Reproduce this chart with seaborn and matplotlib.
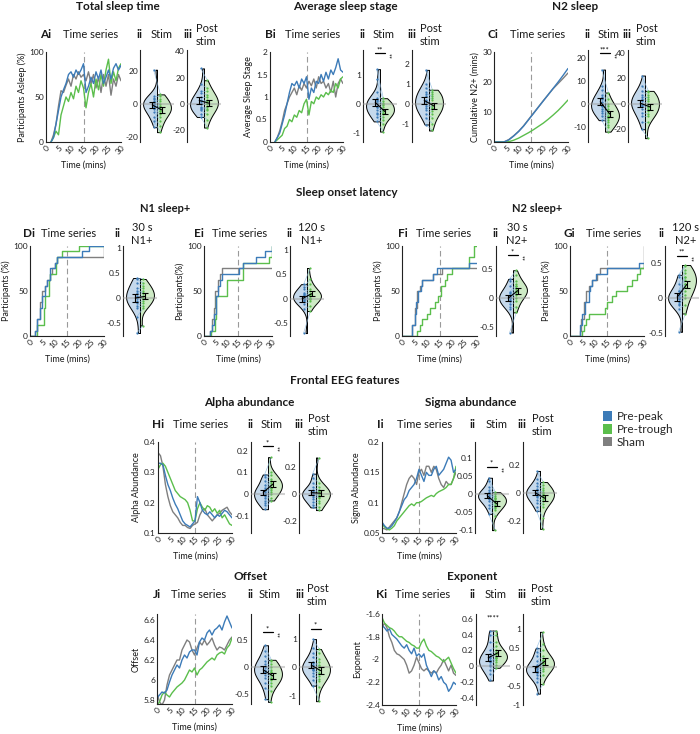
import numpy as np
import pandas as pd
import matplotlib
matplotlib.use('Agg')
import matplotlib.pyplot as plt
from matplotlib.patches import Patch
from matplotlib.ticker import FuncFormatter
import seaborn as sns

sns.set_theme(style='white')
plt.rcParams['font.family'] = ['Lato', 'DejaVu Sans']
plt.rcParams['axes.unicode_minus'] = False

# ---------------- DATA ----------------
conds = ['Pre-peak', 'Pre-trough', 'Sham']

# A: participants asleep (%), x = 2..30
A_x = list(range(2, 31))
A_blue = [0, 5, 20, 35, 50, 58, 65, 75, 78, 72, 80, 75, 80, 87, 55, 62, 72, 65, 78, 70, 80, 65, 72, 80, 70, 82, 87, 80, 85]
A_gray = [0, 8, 20, 40, 57, 55, 63, 70, 62, 75, 70, 78, 72, 75, 68, 78, 65, 75, 60, 72, 55, 75, 62, 75, 52, 70, 62, 75, 68]
A_green = [0, 5, 12, 8, 30, 40, 50, 45, 55, 48, 62, 55, 68, 60, 38, 55, 65, 50, 70, 58, 75, 62, 80, 92, 65, 78, 68, 82, 87]

# B: average sleep stage
B_x = list(range(2, 31))
B_blue = [0, 0.1, 0.2, 0.4, 0.6, 0.85, 1.1, 1.3, 1.25, 1.35, 1.2, 1.4, 1.3, 1.45, 0.95, 1.2, 1.1, 1.35, 1.3, 1.5, 1.35, 1.55, 1.4, 1.6, 1.5, 1.65, 1.85, 1.6, 1.55]
B_gray = [0, 0.1, 0.25, 0.45, 0.7, 0.85, 1.0, 1.1, 1.2, 1.05, 1.25, 1.15, 1.3, 1.2, 1.35, 1.25, 1.4, 1.2, 1.45, 1.3, 1.35, 1.2, 1.3, 1.1, 1.35, 1.0, 1.3, 1.4, 1.3]
B_green = [0, 0.05, 0.1, 0.15, 0.3, 0.35, 0.5, 0.45, 0.6, 0.55, 0.7, 0.65, 0.85, 0.95, 0.6, 0.9, 0.85, 1.0, 0.95, 1.05, 1.0, 1.1, 1.05, 1.15, 1.1, 1.3, 1.2, 1.4, 1.45]

# C: cumulative N2+ (mins)
C_x = [0, 2, 4, 6, 8, 10, 12, 14, 16, 18, 20, 22, 24, 26, 28, 30]
C_blue = [0, 0, 0, 0.7, 2.0, 3.5, 5.3, 7.4, 9.5, 11.6, 13.7, 15.8, 17.9, 20.0, 22.2, 24.5]
C_gray = [0, 0, 0, 0.8, 2.1, 3.6, 5.4, 7.5, 9.6, 11.7, 13.8, 15.8, 17.8, 19.5, 21.2, 23.0]
C_green = [0, 0, 0, 0.1, 0.6, 1.3, 2.2, 3.1, 4.1, 5.2, 6.3, 7.6, 9.0, 10.5, 12.2, 14.0]

# D-G: sleep onset step curves (participants %)
D_blue_x = [0, 2, 3, 4, 5, 6, 7, 8, 10, 11, 21, 24, 30]
D_blue_y = [0, 6, 19, 31, 44, 56, 62, 75, 81, 87.5, 94, 100, 100]
D_gray_x = [0, 2, 3, 4, 5, 6, 7, 8, 9, 10, 11, 30]
D_gray_y = [0, 6, 19, 37.5, 50, 56, 62, 69, 75, 81, 87.5, 100]
D_green_x = [0, 3, 5.5, 6, 7.5, 8, 10.5, 11, 13, 20, 30]
D_green_y = [0, 12.5, 31, 44, 62, 69, 81, 87.5, 94, 100, 100]

E_blue_x = [0, 2.5, 3.5, 4.5, 5.5, 6, 7, 8, 15.5, 17, 23, 27, 30]
E_blue_y = [0, 6, 12.5, 25, 44, 56, 62.5, 69, 75, 81, 87.5, 94, 100]
E_gray_x = [0, 2.5, 3.5, 4.5, 5, 6, 7, 8, 9, 30]
E_gray_y = [0, 6, 19, 31, 50, 62.5, 69, 75, 75, 75]
E_green_x = [0, 3, 5, 5.5, 6.5, 10, 17, 26, 28.5, 30]
E_green_y = [0, 6, 19, 44, 44, 62.5, 81, 81, 87.5, 100]

F_blue_x = [0, 4, 5, 5.5, 6.5, 7.5, 8, 9, 12.5, 14, 27, 30]
F_blue_y = [0, 12.5, 25, 37.5, 50, 56, 62.5, 62.5, 69, 75, 81, 81]
F_gray_x = [0, 4, 5, 6, 7, 8, 12.5, 14, 16, 30]
F_gray_y = [0, 12.5, 31, 50, 56, 62.5, 69, 69, 75, 75]
F_green_x = [0, 6, 7, 8, 10, 11, 13, 14.5, 15.5, 17, 18, 20, 27, 29, 30]
F_green_y = [0, 6, 12.5, 19, 25, 31, 37.5, 44, 56, 62.5, 69, 75, 87.5, 100, 100]

G_blue_x = [0, 4, 5, 6, 7.5, 8, 9, 10.5, 13, 15, 28, 30]
G_blue_y = [0, 12.5, 25, 37.5, 50, 56, 62.5, 69, 69, 75, 81, 81]
G_gray_x = [0, 4, 4.5, 5.5, 6.5, 7.5, 9, 11, 12, 30]
G_gray_y = [0, 6, 19, 37.5, 50, 56, 62.5, 69, 75, 100]
G_green_x = [0, 5, 5.5, 6.5, 7.5, 9.5, 14, 15, 17, 18.5, 23, 25, 27, 28.5, 30]
G_green_y = [0, 6, 12.5, 19, 25, 25, 31, 37.5, 44, 50, 56, 62.5, 69, 75, 81]

# H-K: EEG feature time series, x = 0..30
T_x = list(range(0, 31))
H_gray = [0.365, 0.355, 0.32, 0.26, 0.22, 0.19, 0.17, 0.16, 0.15, 0.135, 0.125, 0.125, 0.118, 0.115, 0.125, 0.13, 0.135, 0.16, 0.175, 0.18, 0.16, 0.15, 0.14, 0.15, 0.16, 0.165, 0.175, 0.18, 0.185, 0.17, 0.16]
H_blue = [0.33, 0.33, 0.325, 0.29, 0.26, 0.24, 0.215, 0.195, 0.18, 0.16, 0.14, 0.13, 0.125, 0.12, 0.13, 0.14, 0.22, 0.2, 0.175, 0.165, 0.16, 0.17, 0.16, 0.15, 0.16, 0.155, 0.165, 0.175, 0.17, 0.16, 0.15]
H_green = [0.31, 0.325, 0.33, 0.32, 0.3, 0.28, 0.26, 0.24, 0.23, 0.22, 0.215, 0.21, 0.2, 0.175, 0.14, 0.14, 0.18, 0.2, 0.185, 0.175, 0.19, 0.185, 0.17, 0.18, 0.165, 0.175, 0.15, 0.16, 0.145, 0.13, 0.125]

I_gray = [0.058, 0.057, 0.055, 0.06, 0.065, 0.07, 0.075, 0.085, 0.1, 0.115, 0.13, 0.14, 0.145, 0.14, 0.13, 0.15, 0.155, 0.145, 0.16, 0.16, 0.15, 0.16, 0.155, 0.14, 0.13, 0.125, 0.135, 0.13, 0.13, 0.14, 0.15]
I_blue = [0.068, 0.062, 0.058, 0.058, 0.062, 0.068, 0.075, 0.085, 0.095, 0.105, 0.11, 0.12, 0.125, 0.13, 0.14, 0.155, 0.145, 0.135, 0.15, 0.145, 0.145, 0.155, 0.16, 0.145, 0.15, 0.155, 0.165, 0.175, 0.17, 0.15, 0.155]
I_green = [0.065, 0.06, 0.057, 0.055, 0.058, 0.062, 0.07, 0.075, 0.08, 0.085, 0.09, 0.095, 0.098, 0.095, 0.1, 0.1, 0.102, 0.105, 0.108, 0.11, 0.112, 0.11, 0.115, 0.118, 0.12, 0.122, 0.125, 0.13, 0.13, 0.14, 0.16]

J_gray = [5.87, 5.78, 5.75, 5.8, 5.95, 6.05, 6.1, 6.15, 6.2, 6.2, 6.3, 6.35, 6.4, 6.38, 6.3, 6.25, 6.32, 6.38, 6.35, 6.4, 6.35, 6.38, 6.42, 6.35, 6.3, 6.33, 6.32, 6.3, 6.35, 6.4, 6.43]
J_blue = [5.82, 5.85, 5.88, 5.87, 5.9, 5.98, 6.05, 6.1, 6.15, 6.12, 6.2, 6.25, 6.22, 6.28, 6.3, 6.3, 6.25, 6.38, 6.42, 6.4, 6.47, 6.5, 6.45, 6.5, 6.52, 6.55, 6.5, 6.58, 6.64, 6.58, 6.52]
J_green = [5.75, 5.78, 5.85, 5.88, 5.85, 5.83, 5.87, 5.9, 5.93, 5.95, 5.97, 6.0, 6.05, 6.1, 6.08, 6.12, 6.05, 6.1, 6.12, 6.15, 6.18, 6.2, 6.22, 6.2, 6.25, 6.27, 6.28, 6.26, 6.32, 6.35, 6.42]

K_gray = [-1.72, -1.68, -1.72, -1.8, -1.85, -1.92, -1.95, -1.96, -1.98, -2.0, -2.05, -2.12, -2.1, -2.05, -1.98, -2.03, -2.08, -2.1, -2.08, -2.1, -2.12, -2.1, -2.12, -2.08, -2.05, -2.0, -2.05, -2.1, -2.05, -2.12, -2.14]
K_blue = [-1.7, -1.72, -1.75, -1.73, -1.78, -1.8, -1.82, -1.85, -1.88, -1.9, -1.87, -1.92, -1.95, -1.9, -1.97, -1.95, -1.98, -1.95, -2.05, -2.1, -2.15, -2.1, -2.12, -2.18, -2.15, -2.2, -2.22, -2.28, -2.25, -2.2, -2.22]
K_green = [-1.63, -1.68, -1.7, -1.72, -1.73, -1.75, -1.78, -1.8, -1.8, -1.82, -1.84, -1.85, -1.87, -1.88, -1.9, -1.9, -1.85, -1.82, -1.88, -1.92, -1.93, -1.95, -1.97, -1.98, -2.0, -2.02, -2.0, -1.98, -2.03, -2.08, -2.12]

# Violin (per-participant change) values: blue = Pre-peak, green = Pre-trough
Aii_b = [21, 5, 3, 2, 1, 0, -1, -2, -3, -5, -8, -10, -14, 4, 0]
Aii_g = [6, 5, 2, 0, -2, -3, -4, -6, -8, -10, -13, -17, 3, -1, -4]
Aiii_b = [27, 15, 10, 8, 5, 3, 2, 0, -2, -4, -5, -8, -10, 1, -3]
Aiii_g = [18, 12, 10, 7, 5, 3, 1, 0, -2, -5, -8, -12, -18, 2, -4]
Bii_b = [1.2, 0.85, 0.4, 0.2, 0.1, 0.05, 0, -0.1, -0.2, -0.3, -0.35, -0.45, -0.6, 0.15, -0.1]
Bii_g = [0.2, 0.1, 0.05, -0.05, -0.1, -0.2, -0.25, -0.3, -0.35, -0.45, -0.55, -0.7, -0.95, 0.0, -0.3]
Biii_b = [1.7, 1.0, 0.8, 0.6, 0.4, 0.2, 0.1, 0, -0.2, -0.3, -0.5, -0.7, -1.05, 0.5, -0.1]
Biii_g = [0.7, 0.6, 0.5, 0.3, 0.2, 0.0, -0.1, -0.2, -0.35, -0.5, -0.7, -1.0, -1.35, 0.4, -0.2]
Cii_b = [15, 8, 6, 4, 2, 1, 0, -1, -2, -3, -4, -5, -7, 3, -1]
Cii_g = [5, 2, 0, -2, -3, -4, -5, -6, -7, -8, -9, -10, -12, -1, -5]
Ciii_b = [22, 14, 10, 7, 4, 2, 0, -2, -4, -7, -10, -14, -20, 5, -1]
Ciii_g = [10, 9, 7, 4, 2, 0, -2, -4, -6, -8, -10, -14, -27, 5, -3]
Dii_b = [0.4, 0.38, 0.3, 0.2, 0.1, 0.05, 0, -0.05, -0.1, -0.15, -0.2, -0.38, -0.7, 0.15, 0.0]
Dii_g = [0.38, 0.3, 0.25, 0.2, 0.15, 0.1, 0.05, 0, -0.05, -0.1, -0.15, -0.2, -0.55, 0.1, 0.0]
Eii_b = [0.3, 0.25, 0.2, 0.12, 0.08, 0.05, 0.02, 0, -0.02, -0.05, -0.1, -0.2, -0.7, 0.1, 0.0]
Eii_g = [0.63, 0.4, 0.3, 0.2, 0.15, 0.1, 0.08, 0.05, 0.02, 0, -0.05, -0.15, -0.25, 0.1, 0.0]
Fii_b = [0.33, 0.3, 0.2, 0.1, 0.05, 0.02, 0, -0.03, -0.05, -0.1, -0.15, -0.2, -0.6, 0.08, 0.0]
Fii_g = [0.48, 0.4, 0.3, 0.25, 0.2, 0.15, 0.12, 0.1, 0.05, 0, -0.05, -0.15, -0.25, 0.2, 0.1]
Gii_b = [0.33, 0.3, 0.2, 0.1, 0.05, 0.02, 0, -0.02, -0.05, -0.08, -0.1, -0.15, -0.48, 0.1, 0.0]
Gii_g = [0.47, 0.45, 0.4, 0.35, 0.3, 0.25, 0.2, 0.15, 0.1, 0.05, 0, -0.1, -0.22, 0.3, 0.2]
Hii_b = [0.09, 0.08, 0.06, 0.04, 0.02, 0.01, 0, -0.01, -0.02, -0.03, -0.04, -0.05, -0.07, 0.03, 0.0]
Hii_g = [0.17, 0.1, 0.09, 0.07, 0.06, 0.05, 0.04, 0.03, 0.02, 0.01, 0, -0.02, -0.03, 0.06, 0.03]
Hiii_b = [0.15, 0.12, 0.08, 0.05, 0.03, 0.01, 0, -0.01, -0.02, -0.04, -0.06, -0.08, -0.1, 0.02, -0.01]
Hiii_g = [0.27, 0.08, 0.05, 0.03, 0.02, 0.01, 0, -0.01, -0.03, -0.05, -0.07, -0.1, -0.12, 0.02, -0.02]
Iii_b = [0.045, 0.035, 0.02, 0.01, 0.005, 0, -0.005, -0.01, -0.015, -0.02, -0.03, -0.04, -0.055, 0.0, -0.01]
Iii_g = [0.005, 0.0, -0.005, -0.01, -0.015, -0.02, -0.025, -0.03, -0.035, -0.04, -0.045, -0.06, -0.1, -0.01, -0.02]
Iiii_b = [0.16, 0.1, 0.07, 0.05, 0.03, 0.01, 0, -0.01, -0.03, -0.05, -0.07, -0.1, -0.13, 0.02, -0.02]
Iiii_g = [0.08, 0.06, 0.04, 0.02, 0.0, -0.01, -0.02, -0.04, -0.06, -0.08, -0.1, -0.18, -0.26, 0.01, -0.03]
Jii_b = [0.4, 0.3, 0.2, 0.1, 0.05, 0, -0.05, -0.1, -0.15, -0.2, -0.3, -0.4, -0.6, 0.0, -0.1]
Jii_g = [0.13, 0.1, 0.05, 0, -0.05, -0.1, -0.15, -0.2, -0.25, -0.3, -0.35, -0.45, -0.65, -0.1, -0.2]
Jiii_b = [1.0, 0.7, 0.5, 0.35, 0.2, 0.1, 0, -0.05, -0.1, -0.2, -0.3, -0.45, -0.65, 0.15, -0.1]
Jiii_g = [0.65, 0.5, 0.3, 0.2, 0.1, 0, -0.1, -0.2, -0.3, -0.4, -0.5, -0.7, -1.2, 0.05, -0.2]
Kii_b = [0.45, 0.4, 0.3, 0.2, 0.15, 0.1, 0.08, 0.05, 0.02, 0, -0.05, -0.1, -0.18, 0.12, 0.06]
Kii_g = [0.45, 0.4, 0.3, 0.25, 0.2, 0.18, 0.15, 0.12, 0.1, 0.08, 0.05, 0.02, -0.02, 0.15, 0.1]
Kiii_b = [0.5, 0.4, 0.3, 0.15, 0.05, 0, -0.05, -0.1, -0.15, -0.2, -0.3, -0.4, -0.7, 0.0, -0.1]
Kiii_g = [0.93, 0.6, 0.45, 0.3, 0.2, 0.15, 0.1, 0.05, 0, -0.05, -0.1, -0.2, -0.45, 0.2, 0.1]

# ---------------- STYLE ----------------
BLUE = '#3C7BB8'
GREEN = '#5BBE4C'
GRAY = '#7F7F7F'
LBLUE = '#C5D9EC'
LGREEN = '#CDEAC5'
TXT = '#1a1a1a'

W, H = 700, 734
fig = plt.figure(figsize=(7.0, 7.34), dpi=100)
fig.patch.set_facecolor('white')


def box(l, t, r, b):
    return fig.add_axes([l / W, 1 - b / H, (r - l) / W, (b - t) / H])


def txt(x, y, s, **kw):
    kw.setdefault('color', TXT)
    fig.text(x / W, 1 - y / H, s, **kw)


fmt_g = FuncFormatter(lambda v, p: ('%g' % round(v, 4)))


def style_axis(ax):
    for sp in ['top', 'right']:
        ax.spines[sp].set_visible(False)
    for sp in ['left', 'bottom']:
        ax.spines[sp].set_color('#222222')
        ax.spines[sp].set_linewidth(0.8)
    ax.tick_params(direction='in', length=2.5, width=0.6, labelsize=6,
                   pad=1.5, colors='#222222')
    ax.set_facecolor('none')


def ts_panel(box_px, series, ylim, yticks, ylabel, steps=False):
    l, t, r, b = box_px
    ax = box(l, t, r, b)
    for x, y, c in series:
        kw = dict(drawstyle='steps-post') if steps else {}
        sns.lineplot(x=x, y=y, color=c, ax=ax, lw=1.0, estimator=None,
                     sort=False, **kw)
    ax.axvline(15, color='#9a9a9a', lw=0.8, ls=(0, (5, 3)), zorder=0)
    ax.set_xlim(0, 30)
    ax.set_ylim(*ylim)
    ax.set_xticks([0, 5, 10, 15, 20, 25, 30])
    ax.set_yticks(yticks)
    ax.yaxis.set_major_formatter(fmt_g)
    style_axis(ax)
    for lab in ax.get_xticklabels():
        lab.set_rotation(45)
        lab.set_ha('right')
        lab.set_va('top')
        lab.set_rotation_mode('anchor')
    ax.set_xlabel('')
    ax.set_ylabel(ylabel, fontsize=6.5, color=TXT, labelpad=2)
    txt((l + r) / 2, b + 23, 'Time (mins)', fontsize=6.5, ha='center', va='center')
    return ax


def vio_panel(spine, t, b, bvals, gvals, ylim, yticks, sig=None, side=None):
    ax = box(spine, t, spine + 34, b)
    n, m = len(bvals), len(gvals)
    df = pd.DataFrame({'g': ['x'] * (n + m),
                       'val': list(bvals) + list(gvals),
                       'cond': ['Pre-peak'] * n + ['Pre-trough'] * m})
    sns.violinplot(data=df, x='g', y='val', hue='cond', split=True,
                   inner=None, cut=0, density_norm='width', width=0.82,
                   palette=[LBLUE, LGREEN], linecolor='black', linewidth=0.7,
                   saturation=1, legend=False, ax=ax)
    for bv, gv in zip(bvals, gvals):
        ax.plot([-0.1, 0.1], [bv, gv], color='#8DB9DE', lw=0.5, alpha=0.8, zorder=3)
    ax.scatter([-0.1] * n, bvals, s=2.5, color=BLUE, zorder=4, linewidths=0)
    ax.scatter([0.1] * m, gvals, s=2.5, color=GREEN, zorder=4, linewidths=0)
    ax.axhline(0, color='#9c9c9c', lw=1.5, alpha=0.45, zorder=5)
    mb, mg = np.mean(bvals), np.mean(gvals)
    sb = np.std(bvals, ddof=1) / np.sqrt(n)
    sg = np.std(gvals, ddof=1) / np.sqrt(m)
    ax.errorbar([-0.14, 0.14], [mb, mg], yerr=[sb, sg], fmt='-', color='black',
                lw=0.8, capsize=2, capthick=0.8, zorder=6)
    if sig is not None:
        stars, ybar = sig
        ax.plot([-0.15, 0.15], [ybar, ybar], color='black', lw=0.9,
                clip_on=False, zorder=7)
        ax.text(-0.02, ybar, stars, ha='center', va='bottom', fontsize=5.5,
                color='black', clip_on=False)
        if side:
            ax.text(0.22, ybar, side, ha='center', va='top', fontsize=5,
                    rotation=-90, color='black', clip_on=False)
    ax.set_xlim(-0.5, 0.5)
    ax.set_ylim(*ylim)
    ax.set_yticks(yticks)
    ax.yaxis.set_major_formatter(fmt_g)
    style_axis(ax)
    ax.spines['bottom'].set_visible(False)
    ax.set_xticks([])
    ax.set_xlabel('')
    ax.set_ylabel('')
    return ax


def titles(letter, lx, ts_center, y, subs):
    txt(lx, y, letter, fontsize=8.5, fontweight='bold', ha='left', va='center')
    txt(ts_center, y, 'Time series', fontsize=8, ha='center', va='center')
    for roman, rx, label, labx, two in subs:
        txt(rx, y, roman, fontsize=8.5, fontweight='bold', ha='center', va='center')
        if two:
            l1, l2 = label.split('\n')
            txt(labx, y - 6.5, l1, fontsize=8, ha='left' if two == 'L' else 'center', va='center')
            txt(labx, y + 6.5, l2, fontsize=8, ha='left' if two == 'L' else 'center', va='center')
        else:
            txt(labx, y, label, fontsize=8, ha='center', va='center')


def section(x, y, s, size=8.5):
    txt(x, y, s, fontsize=size, fontweight='bold', ha='center', va='center')


ser = lambda x, b, g, k: [(x, k, GRAY), (x, g, GREEN), (x, b, BLUE)]

# ---------------- ROW 1 ----------------
section(118, 6, 'Total sleep time')
section(345, 6, 'Average sleep stage')
section(575, 6, 'N2 sleep')

ts_panel((46, 52, 121, 142), ser(A_x, A_blue, A_green, A_gray), (0, 100), [0, 50, 100],
         'Participants Asleep (%)')
vio_panel(140, 50, 142, Aii_b, Aii_g, (-23, 33), [-20, 0, 20])
vio_panel(187, 50, 142, Aiii_b, Aiii_g, (-29, 41), [-20, 0, 20, 40])
titles('Ai', 40, 91, 35, [('ii', 139, 'Stim', 162, None), ('iii', 188, 'Post\nstim', 196, 'L')])

ts_panel((270, 52, 343, 142), ser(B_x, B_blue, B_green, B_gray), (0, 2), [0, 0.5, 1, 1.5, 2],
         'Average Sleep Stage')
vio_panel(363, 50, 142, Bii_b, Bii_g, (-1.31, 1.86), [-1, 0, 1], sig=('**', 1.74), side='**')
vio_panel(412, 50, 142, Biii_b, Biii_g, (-1.93, 2.7), [-1, 0, 1, 2])
titles('Bi', 265, 313, 35, [('ii', 362, 'Stim', 384, None), ('iii', 412, 'Post\nstim', 420, 'L')])

ts_panel((494, 52, 568, 142), ser(C_x, C_blue, C_green, C_gray), (0, 30), [0, 10, 20, 30],
         'Cumulative N2+ (mins)')
vio_panel(588, 50, 142, Cii_b, Cii_g, (-16.5, 23.5), [-10, 0, 10, 20], sig=('***', 22.0), side='**')
vio_panel(628, 50, 142, Ciii_b, Ciii_g, (-30, 42), [-20, 0, 20, 40])
titles('Ci', 488, 538, 35, [('ii', 587, 'Stim', 609, None), ('iii', 627, 'Post\nstim', 636, 'L')])

# ---------------- ROW 2 ----------------
section(347, 193, 'Sleep onset latency')
section(165, 209, 'N1 sleep+', 8)
section(537, 209, 'N2 sleep+', 8)

ts_panel((30, 246, 104, 336), [(D_gray_x, D_gray_y, GRAY), (D_green_x, D_green_y, GREEN),
                               (D_blue_x, D_blue_y, BLUE)], (0, 100), [0, 50, 100],
         'Participants (%)', steps=True)
vio_panel(123, 246, 336, Dii_b, Dii_g, (-0.76, 1.04), [-0.5, 0, 0.5, 1])
titles('Di', 23, 69, 234, [('ii', 117, '30 s\nN1+', 142, 'C')])

ts_panel((204, 246, 272, 336), [(E_gray_x, E_gray_y, GRAY), (E_green_x, E_green_y, GREEN),
                                (E_blue_x, E_blue_y, BLUE)], (0, 100), [0, 50, 100],
         'Participants(%)', steps=True)
vio_panel(290, 246, 336, Eii_b, Eii_g, (-0.76, 1.08), [-0.5, 0, 0.5, 1])
titles('Ei', 194, 240, 234, [('ii', 289, '120 s\nN1+', 312, 'C')])

ts_panel((402, 246, 477, 336), [(F_gray_x, F_gray_y, GRAY), (F_green_x, F_green_y, GREEN),
                                (F_blue_x, F_blue_y, BLUE)], (0, 100), [0, 50, 100],
         'Participants (%)', steps=True)
vio_panel(496, 246, 336, Fii_b, Fii_g, (-0.66, 0.9), [-0.5, 0, 0.5], sig=('*', 0.74), side='**')
titles('Fi', 398, 444, 234, [('ii', 495, '30 s\nN2+', 517, 'C')])

ts_panel((570, 246, 644, 336), [(G_gray_x, G_gray_y, GRAY), (G_green_x, G_green_y, GREEN),
                                (G_blue_x, G_blue_y, BLUE)], (0, 100), [0, 50, 100],
         'Participants (%)', steps=True)
vio_panel(665, 246, 336, Gii_b, Gii_g, (-0.54, 0.74), [-0.5, 0, 0.5], sig=('**', 0.6), side='**')
titles('Gi', 563, 614, 234, [('ii', 661, '120 s\nN2+', 686, 'C')])

# ---------------- ROW 3 ----------------
section(345, 381, 'Frontal EEG features')
section(249, 403, 'Alpha abundance')
section(471, 403, 'Sigma abundance')

ts_panel((158, 442, 232, 533), ser(T_x, H_blue, H_green, H_gray), (0.1, 0.4),
         [0.1, 0.2, 0.3, 0.4], 'Alpha Abundance')
vio_panel(251, 442, 533, Hii_b, Hii_g, (-0.18, 0.24), [-0.1, 0, 0.1, 0.2], sig=('*', 0.22), side='**')
vio_panel(299, 442, 533, Hiii_b, Hiii_g, (-0.29, 0.385), [-0.2, 0, 0.2])
titles('Hi', 152, 201, 425, [('ii', 250, 'Stim', 272, None), ('iii', 299, 'Post\nstim', 308, 'L')])

ts_panel((382, 442, 456, 533), ser(T_x, I_blue, I_green, I_gray), (0.05, 0.2),
         [0.05, 0.1, 0.15, 0.2], 'Sigma Abundance')
vio_panel(475, 442, 533, Iii_b, Iii_g, (-0.108, 0.144), [-0.1, -0.05, 0, 0.05, 0.1],
          sig=('*', 0.075), side='**')
vio_panel(523, 442, 533, Iiii_b, Iiii_g, (-0.29, 0.37), [-0.2, 0, 0.2])
titles('Ii', 377, 425, 425, [('ii', 472, 'Stim', 497, None), ('iii', 522, 'Post\nstim', 532, 'L')])

# legend
handles = [Patch(facecolor=BLUE, edgecolor='none'), Patch(facecolor=GREEN, edgecolor='none'),
           Patch(facecolor=GRAY, edgecolor='none')]
fig.legend(handles, conds, loc='upper left', bbox_to_anchor=(603 / W, 1 - 411 / H),
           frameon=False, fontsize=8.5, handlelength=0.75, handleheight=0.9,
           handletextpad=0.4, labelspacing=0.15, borderpad=0, borderaxespad=0)

# ---------------- ROW 4 ----------------
section(250, 577, 'Offset')
section(472, 577, 'Exponent')

ts_panel((157, 614, 232, 704), ser(T_x, J_blue, J_green, J_gray), (5.76, 6.66),
         [5.8, 6, 6.2, 6.4, 6.6], 'Offset')
vio_panel(251, 614, 704, Jii_b, Jii_g, (-0.69, 0.98), [-0.5, 0, 0.5], sig=('*', 0.64), side='**')
vio_panel(299, 614, 704, Jiii_b, Jiii_g, (-1.3, 1.89), [-1, 0, 1], sig=('*', 1.36))
titles('Ji', 153, 199, 595, [('ii', 250, 'Stim', 270, None), ('iii', 300, 'Post\nstim', 307, 'L')])

ts_panel((382, 614, 456, 705), ser(T_x, K_blue, K_green, K_gray), (-2.4, -1.6),
         [-2.4, -2.2, -2, -1.8, -1.6], 'Exponent')
vio_panel(476, 614, 705, Kii_b, Kii_g, (-0.49, 0.66), [-0.4, -0.2, 0, 0.2, 0.4, 0.6])
ax_k = fig.axes[-1]
ax_k.text(0, 0.57, '****', ha='center', va='bottom', fontsize=5.5, color='black', clip_on=False)
vio_panel(523, 614, 705, Kiii_b, Kiii_g, (-1.0, 1.4), [-1, -0.5, 0, 0.5, 1])
titles('Ki', 376, 423, 595, [('ii', 472, 'Stim', 496, None), ('iii', 522, 'Post\nstim', 531, 'L')])

fig.savefig('out.png', dpi=100, facecolor='white')
